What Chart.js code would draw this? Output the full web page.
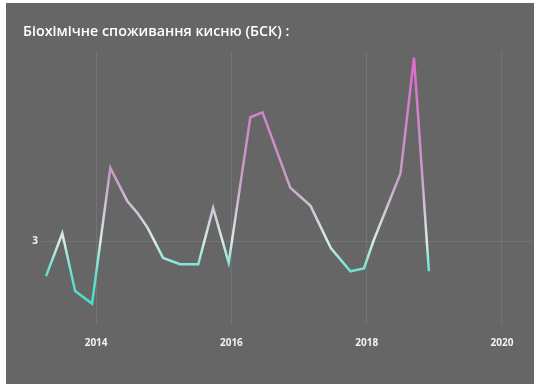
<!DOCTYPE html>
<html>
<head>
<meta charset="utf-8">
<script src="https://cdn.jsdelivr.net/npm/chart.js@4.4.0/dist/chart.umd.min.js"></script>
<style>
  body { margin: 0; background: #ffffff; }
  #panel { position: absolute; left: 6px; top: 3px; width: 528px; height: 381px; background: #666666; }
</style>
</head>
<body>
<div id="panel"><canvas id="bskChart" width="528" height="381"></canvas></div>
<script>
// measurement dates as decimal years, and BOD (БСК) values
let sampleYears = [2013.26, 2013.50, 2013.69, 2013.94, 2014.21, 2014.46, 2014.61, 2014.76, 2014.99,
                   2015.24, 2015.51, 2015.73, 2015.96, 2016.28, 2016.46, 2016.87, 2017.17, 2017.47,
                   2017.76, 2017.96, 2018.10, 2018.50, 2018.70, 2018.92];
let bskValues = [2.50, 3.11, 2.29, 2.11, 4.04, 3.57, 3.40, 3.19, 2.76,
                 2.67, 2.67, 3.47, 2.69, 4.76, 4.83, 3.76, 3.50, 2.90,
                 2.57, 2.61, 3.00, 3.96, 5.61, 2.57];
let xTickYears = [2014, 2016, 2018, 2020];
let yTickValues = [3];
let threshold = 3;
let chartTitle = "Біохімічне споживання кисню (БСК) :";

function lineGradient(context) {
    let chart = context.chart;
    let area = chart.chartArea;
    if (!area) return "#d070c8";
    let yScale = chart.scales.y;
    let g = chart.ctx.createLinearGradient(0, area.bottom, 0, area.top);
    let t = (area.bottom - yScale.getPixelForValue(threshold)) / (area.bottom - area.top);
    t = Math.min(Math.max(t, 0.01), 0.99);
    g.addColorStop(0, "#3fdcc4");
    g.addColorStop(t * 0.6, "#5fe0cc");
    g.addColorStop(t, "#d8ecea");
    g.addColorStop(t + (1 - t) * 0.35, "#c89cc6");
    g.addColorStop(1, "#e066d2");
    return g;
}

let points = sampleYears.map((yr, i) => ({x: yr, y: bskValues[i]}));

let chart = new Chart(document.getElementById("bskChart").getContext("2d"), {
    type: "line",
    data: {
        datasets: [{
            data: points,
            borderColor: lineGradient,
            borderWidth: 2.5,
            pointRadius: 0,
            tension: 0,
            fill: false
        }]
    },
    options: {
        responsive: false,
        animation: false,
        layout: { padding: { left: 17, right: 1.6, bottom: 22.6 } },
        plugins: {
            legend: { display: false },
            tooltip: { enabled: false },
            title: {
                display: true,
                text: chartTitle,
                align: "start",
                color: "#ffffff",
                font: { family: "'Open Sans'", size: 14.3, weight: "600" },
                padding: { top: 20, bottom: 11 }
            }
        },
        scales: {
            x: {
                type: "linear",
                min: 2013.2,
                max: 2020.45,
                afterBuildTicks: axis => { axis.ticks = xTickYears.map(v => ({value: v})); },
                ticks: {
                    color: "#f2f2f2",
                    font: { family: "'Open Sans'", size: 10, weight: "bold" },
                    maxRotation: 0,
                    padding: 12,
                    callback: v => String(v)
                },
                grid: { color: "rgba(255,255,255,0.09)", drawTicks: false },
                border: { display: false }
            },
            y: {
                min: 1.8,
                max: 5.7,
                afterBuildTicks: axis => { axis.ticks = yTickValues.map(v => ({value: v})); },
                afterFit: axis => { axis.width = 19; },
                ticks: {
                    color: "#f2f2f2",
                    font: { family: "'Open Sans'", size: 10, weight: "bold" },
                    padding: 4
                },
                grid: { color: "rgba(255,255,255,0.09)", drawTicks: false },
                border: { display: false }
            }
        }
    }
});
</script>
</body>
</html>
